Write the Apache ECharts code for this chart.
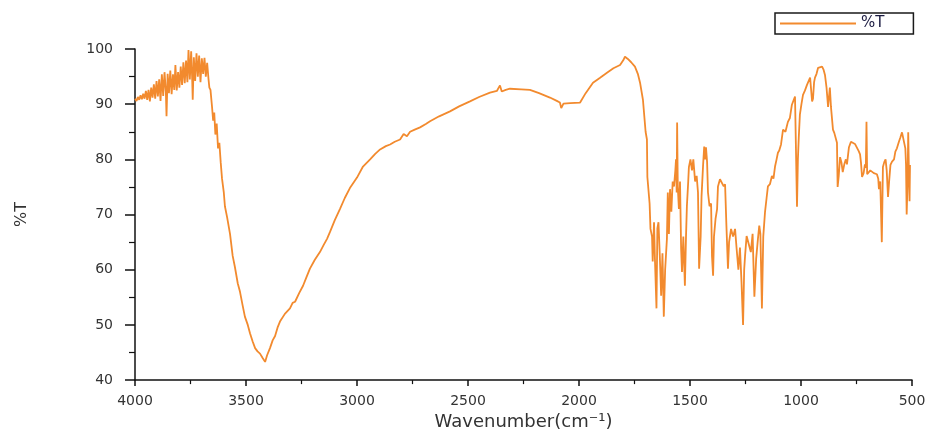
<!DOCTYPE html>
<html>
<head>
<meta charset="utf-8">
<title>FTIR spectrum</title>
<script src="https://cdn.jsdelivr.net/npm/echarts@6/dist/echarts.min.js"></script>
<style>
  html, body { margin: 0; padding: 0; background: #ffffff; }
  #chart { width: 935px; height: 436px; }
</style>
</head>
<body>
<div id="chart"></div>
<script>
// Axis ticks
const xTicks = [4000, 3500, 3000, 2500, 2000, 1500, 1000, 500];
const yTicks = [40, 50, 60, 70, 80, 90, 100];

// O-H stretching region: noisy plateau then broad band (wavenumber cm-1, %T)
const ohRegion = [
  [4000, 91.0], [3993, 90.6], [3987, 91.3], [3981, 90.8], [3975, 91.6], [3969, 90.9],
  [3963, 91.9], [3957, 91.0], [3951, 92.4], [3945, 90.8], [3939, 92.6], [3933, 90.5],
  [3927, 93.0], [3921, 91.2], [3915, 93.6], [3909, 91.0], [3903, 94.2], [3897, 91.4],
  [3891, 94.5], [3885, 90.6], [3879, 95.4], [3873, 91.5], [3867, 95.8], [3861, 92.2],
  [3858, 87.8], [3853, 95.5], [3847, 92.0], [3841, 96.1], [3835, 91.8], [3829, 95.4],
  [3823, 92.6], [3818, 97.1], [3812, 92.5], [3806, 95.8], [3800, 93.0], [3794, 96.8],
  [3788, 93.5], [3782, 97.6], [3776, 93.8], [3770, 97.9], [3764, 94.0], [3759, 99.8],
  [3753, 94.5], [3747, 99.6], [3742, 94.0], [3740, 90.8], [3735, 98.5], [3729, 94.2],
  [3723, 99.2], [3717, 95.0], [3711, 98.8], [3705, 94.0], [3699, 98.3], [3693, 95.5],
  [3687, 98.4], [3681, 95.0], [3675, 97.5], [3669, 94.6], [3665, 93.0], [3660, 92.6],
  [3653, 89.5], [3648, 87.0], [3643, 88.5], [3638, 84.5], [3632, 86.5], [3626, 82.0],
  [3620, 83.0], [3614, 79.5], [3608, 76.5], [3600, 74.0], [3595, 71.5], [3585, 69.5],
  [3572, 66.5], [3560, 62.5], [3550, 60.5], [3537, 57.5], [3527, 56.0], [3515, 53.5],
  [3505, 51.5], [3492, 50.0], [3482, 48.5], [3470, 47.0], [3459, 45.8], [3448, 45.2],
  [3437, 44.8], [3425, 44.0], [3414, 43.3], [3405, 44.5], [3392, 45.8], [3380, 47.2],
  [3369, 48.0], [3358, 49.5], [3347, 50.6], [3325, 52.0], [3302, 53.0], [3290, 54.0],
  [3279, 54.2], [3260, 55.8], [3243, 57.1], [3228, 58.6], [3212, 60.2], [3190, 61.8],
  [3167, 63.2], [3150, 64.5], [3135, 65.6], [3122, 66.8], [3100, 69.0], [3077, 71.0],
  [3055, 73.0], [3032, 74.8], [3000, 76.7], [2973, 78.7], [2941, 80.0], [2918, 81.0],
  [2896, 81.8]
];

// Mid range: slow recovery towards the carbonyl region
const midRegion = [
  [2870, 82.4], [2851, 82.7], [2830, 83.2], [2806, 83.6], [2790, 84.6], [2775, 84.2],
  [2761, 85.0], [2740, 85.4], [2716, 85.8], [2690, 86.4], [2671, 86.9], [2630, 87.8],
  [2581, 88.7], [2540, 89.6], [2491, 90.5], [2450, 91.3], [2401, 92.1], [2370, 92.4],
  [2356, 93.4], [2348, 92.3], [2330, 92.6], [2311, 92.8], [2260, 92.7], [2221, 92.6],
  [2180, 92.0], [2131, 91.2], [2100, 90.6], [2086, 90.3], [2080, 89.3], [2070, 90.1],
  [2040, 90.2], [1995, 90.3], [1970, 92.0], [1937, 93.9], [1905, 94.8], [1874, 95.7],
  [1845, 96.5], [1815, 97.1], [1800, 98.0], [1793, 98.6], [1780, 98.2], [1765, 97.6],
  [1748, 96.8], [1735, 95.5], [1725, 93.9], [1712, 90.8]
];

// Fingerprint region
const fingerprintRegion = [
  [1700, 85.0], [1694, 83.6], [1692, 76.8], [1682, 72.0], [1678, 67.4], [1671, 66.0],
  [1668, 61.5], [1662, 68.6], [1658, 62.0], [1651, 53.0], [1647, 67.5], [1642, 68.6],
  [1636, 62.5], [1630, 55.3], [1624, 63.0], [1618, 51.5], [1612, 60.0], [1604, 65.6],
  [1600, 74.0], [1595, 66.5], [1590, 74.6], [1584, 70.5], [1578, 76.0], [1572, 75.1],
  [1566, 78.0], [1563, 80.0], [1560, 74.0], [1558, 86.7], [1555, 75.0], [1550, 71.0],
  [1545, 76.0], [1540, 63.8], [1536, 59.6], [1530, 66.0], [1523, 57.1], [1518, 66.0],
  [1514, 71.5], [1508, 76.0], [1505, 78.6], [1498, 80.0], [1491, 78.0], [1485, 80.0],
  [1477, 76.0], [1470, 77.0], [1464, 74.0], [1459, 60.2], [1452, 66.0], [1448, 73.3],
  [1441, 79.0], [1436, 82.3], [1432, 80.0], [1428, 82.2], [1423, 79.5], [1419, 74.0],
  [1412, 71.5], [1405, 72.0], [1401, 62.5], [1396, 58.9], [1392, 66.0], [1385, 69.2],
  [1378, 71.0], [1374, 75.1], [1365, 76.4], [1356, 76.4], [1348, 75.1], [1342, 75.5],
  [1336, 68.0], [1329, 60.2], [1324, 65.0], [1315, 67.4], [1306, 66.0], [1297, 67.4],
  [1290, 63.8], [1282, 60.0], [1275, 64.0], [1268, 57.8], [1261, 50.0], [1256, 60.0],
  [1252, 62.5], [1245, 66.1], [1236, 66.1], [1226, 63.2], [1218, 66.5], [1210, 55.1],
  [1202, 62.0], [1194, 65.6], [1188, 68.0], [1183, 66.5], [1176, 53.0], [1170, 66.0],
  [1162, 70.5], [1155, 73.0], [1149, 75.1], [1140, 75.5], [1131, 77.0], [1124, 76.5],
  [1117, 78.7], [1110, 80.0], [1104, 81.2], [1098, 81.6], [1090, 82.7], [1081, 85.4],
  [1070, 85.0], [1059, 86.8], [1050, 87.5], [1041, 89.9], [1032, 90.0], [1027, 91.4],
  [1022, 91.3], [1018, 71.4], [1014, 80.0], [1010, 84.0], [1005, 88.1], [998, 90.0],
  [991, 91.7], [982, 92.5], [973, 93.5], [966, 93.2], [959, 94.8], [952, 94.5],
  [950, 90.5], [946, 91.0], [941, 94.0], [937, 94.8], [930, 95.5], [923, 96.6],
  [914, 96.9], [905, 96.8], [898, 96.2], [892, 95.3], [885, 93.0], [878, 89.5],
  [870, 93.0], [865, 89.5], [860, 89.5], [856, 85.4], [850, 84.8], [842, 84.5],
  [838, 83.0], [835, 75.0], [830, 77.0], [824, 80.4], [818, 79.5], [812, 77.7],
  [805, 79.1], [798, 80.0], [793, 79.1], [784, 82.2], [775, 83.2], [766, 83.1],
  [757, 82.8], [748, 82.7], [740, 81.5], [734, 80.9], [730, 79.5], [725, 76.8],
  [718, 77.5], [712, 79.1], [708, 78.5], [705, 86.8], [702, 77.3], [695, 77.5],
  [688, 78.0], [680, 77.8], [672, 77.5], [665, 77.7], [658, 77.3], [652, 76.5],
  [649, 74.6], [643, 76.0], [636, 65.0], [633, 73.0], [631, 78.6], [625, 79.5],
  [619, 80.0], [614, 78.0], [608, 73.2], [603, 76.0], [597, 79.0], [590, 79.6],
  [581, 80.0], [575, 81.4], [568, 82.0], [559, 83.2], [552, 84.0], [545, 84.9],
  [540, 84.6], [536, 85.0], [530, 82.0], [527, 79.1], [524, 70.0], [520, 76.0],
  [517, 84.9], [514, 78.0], [511, 72.4], [509, 79.0]
];

const spectrum = ohRegion.concat(midRegion, fingerprintRegion);

const lineColor = '#F28A2E';
const chart = echarts.init(document.getElementById('chart'));

const labelFont = { fontFamily: 'DejaVu Sans', fontSize: 14, color: '#333333' };
const plainNumber = v => String(v);

chart.setOption({
  backgroundColor: '#ffffff',
  animation: false,
  grid: { left: 135, right: 23, top: 49, bottom: 54 },
  legend: {
    left: 775,
    top: 13,
    itemWidth: 76,
    itemHeight: 14,
    padding: [3, 29, 3, 5],
    borderColor: '#1a1a1a',
    borderWidth: 1.5,
    borderRadius: 0,
    textStyle: { fontFamily: 'DejaVu Sans', fontSize: 15, color: '#1a1a40' },
    data: [{ name: '%T', icon: 'path://M0,0H76V1.8H0Z' }]
  },
  xAxis: {
    type: 'value',
    inverse: true,
    min: xTicks[xTicks.length - 1],
    max: xTicks[0],
    interval: 500,
    name: 'Wavenumber(cm\u207B\u00B9)',
    nameLocation: 'middle',
    nameGap: 31,
    nameTextStyle: { fontFamily: 'DejaVu Sans', fontSize: 18, color: '#333333', verticalAlign: 'top' },
    axisLine: { onZero: false, lineStyle: { color: '#111111', width: 1.5 } },
    axisTick: { inside: false, length: 6, lineStyle: { color: '#111111', width: 1.5 } },
    minorTick: { show: true, splitNumber: 2, length: 4, lineStyle: { color: '#111111', width: 1.2 } },
    axisLabel: Object.assign({ margin: 14, formatter: plainNumber }, labelFont),
    splitLine: { show: false }
  },
  yAxis: {
    type: 'value',
    min: yTicks[0],
    max: yTicks[yTicks.length - 1],
    interval: 10,
    name: '%T',
    nameLocation: 'middle',
    nameGap: 105,
    nameRotate: 90,
    nameTextStyle: { fontFamily: 'DejaVu Sans', fontSize: 16, color: '#333333' },
    axisLine: { show: true, onZero: false, lineStyle: { color: '#111111', width: 1.5 } },
    axisTick: { show: true, inside: false, length: 10, lineStyle: { color: '#111111', width: 1.5 } },
    minorTick: { show: true, splitNumber: 2, length: 6, lineStyle: { color: '#111111', width: 1.2 } },
    axisLabel: Object.assign({ margin: 22, formatter: plainNumber }, labelFont),
    splitLine: { show: false }
  },
  series: [{
    name: '%T',
    type: 'line',
    data: spectrum,
    symbol: 'none',
    showSymbol: false,
    smooth: false,
    lineStyle: { color: lineColor, width: 1.8 },
    itemStyle: { color: lineColor }
  }]
});
</script>
</body>
</html>
